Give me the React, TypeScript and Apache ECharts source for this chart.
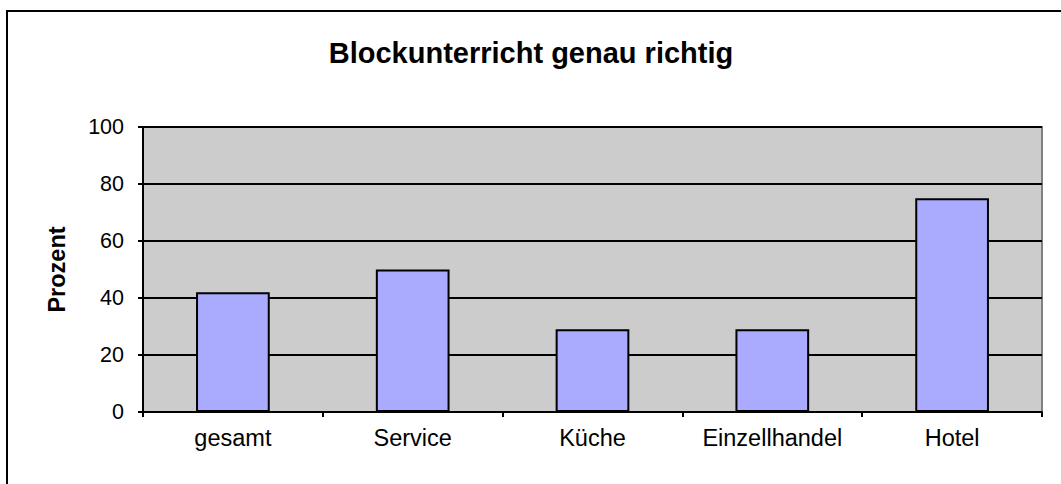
import React, { useEffect, useRef } from "react";
import * as echarts from "echarts";

const categories = ["gesamt", "Service", "Küche", "Einzellhandel", "Hotel"];
const values = [42, 50, 29, 29, 75];
const chartTitle = "Blockunterricht genau richtig";
const yAxisName = "Prozent";

export default function App() {
  const ref = useRef<HTMLDivElement>(null);
  useEffect(() => {
    document.body.style.margin = "0";
    const chart = echarts.init(ref.current!, undefined, { renderer: "svg" });
    const font = "Liberation Sans, Arial, sans-serif";
    chart.setOption({
      animation: false,
      backgroundColor: "#ffffff",
      title: {
        text: chartTitle,
        left: 526,
        textAlign: "center",
        top: 33,
        textStyle: { fontFamily: font, fontSize: 29, fontWeight: "bold", color: "#000" },
      },
      graphic: [
        { type: "line", shape: { x1: 7, y1: 11, x2: 7, y2: 484 }, style: { stroke: "#000", lineWidth: 2 } },
        { type: "line", shape: { x1: 6, y1: 11, x2: 1061, y2: 11 }, style: { stroke: "#000", lineWidth: 2 } },
      ],
      grid: {
        left: 143,
        top: 127,
        right: 19,
        bottom: 72,
        show: true,
        backgroundColor: "#CCCCCC",
        borderColor: "#808080",
        borderWidth: 2,
      },
      xAxis: {
        type: "category",
        data: categories,
        boundaryGap: true,
        axisLine: { lineStyle: { color: "#000", width: 2 } },
        axisTick: { show: true, interval: 0, length: 5, lineStyle: { color: "#000", width: 2 } },
        axisLabel: { interval: 0, margin: 14, fontFamily: font, fontSize: 23.5, color: "#000" },
        splitLine: { show: false },
      },
      yAxis: {
        type: "value",
        min: 0,
        max: 100,
        interval: 20,
        name: yAxisName,
        nameLocation: "middle",
        nameGap: 74,
        nameTextStyle: { fontFamily: font, fontSize: 23.5, fontWeight: "bold", color: "#000" },
        axisLine: { show: true, lineStyle: { color: "#000", width: 2 } },
        axisTick: { show: true, length: 5, lineStyle: { color: "#000", width: 2 } },
        axisLabel: { margin: 19, fontFamily: font, fontSize: 21.5, color: "#000" },
        splitLine: { show: true, lineStyle: { color: "#000", width: 2 } },
      },
      series: [
        {
          type: "bar",
          data: values,
          barWidth: "41%",
          itemStyle: { color: "#AAAAFF", borderColor: "#000", borderWidth: 2 },
        },
      ],
    });
    return () => chart.dispose();
  }, []);
  return <div ref={ref} style={{ width: 1061, height: 484 }} />;
}
